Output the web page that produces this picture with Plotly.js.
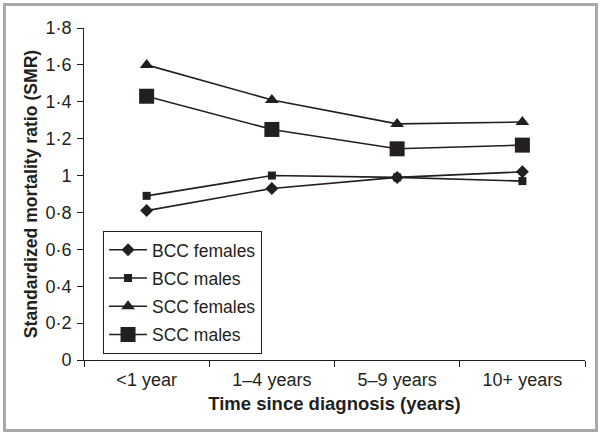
<!DOCTYPE html>
<html><head><meta charset="utf-8">
<script src="https://cdn.plot.ly/plotly-3.0.1.min.js"></script>
<style>
html,body{margin:0;padding:0;background:#fff;}
#chart{width:601px;height:435px;position:absolute;left:0;top:0;}
#frame{position:absolute;left:3px;top:3px;width:589px;height:423px;border:3px solid #a9a9a9;pointer-events:none;}
</style></head>
<body>
<div id="chart"></div>
<div id="frame"></div>
<script>
const categories = ['<1 year', '1\u20134 years', '5\u20139 years', '10+ years'];
const bccFemales = [0.81, 0.93, 0.99, 1.02];
const bccMales = [0.89, 1.00, 0.99, 0.97];
const sccFemales = [1.60, 1.41, 1.28, 1.29];
const sccMales = [1.43, 1.25, 1.145, 1.165];
const yTickVals = [0, 0.2, 0.4, 0.6, 0.8, 1, 1.2, 1.4, 1.6, 1.8];
const yTickText = ['0', '0\u00b72', '0\u00b74', '0\u00b76', '0\u00b78', '1', '1\u00b72', '1\u00b74', '1\u00b76', '1\u00b78'];

const ink = '#231f20';
function tr(name, y, symbol, size, g) {
  return {
    x: categories, y: y, name: name, type: 'scatter', mode: 'lines+markers',
    legendgroup: g,
    line: {color: ink, width: 1.6},
    marker: {symbol: symbol, size: size, color: ink}
  };
}
const data = [
  tr('BCC females', bccFemales, 'diamond', 10, 'a'),
  tr('BCC males', bccMales, 'square', 8, 'b'),
  tr('SCC females', sccFemales, 'triangle-up', 12, 'c'),
  tr('SCC males', sccMales, 'square', 15, 'd')
];
const layout = {
  width: 601, height: 435,
  margin: {l: 84, r: 16, t: 28, b: 75},
  paper_bgcolor: '#fff', plot_bgcolor: '#fff',
  font: {family: 'Liberation Sans, Arial, sans-serif', size: 17.5, color: ink},
  showlegend: true,
  legend: {
    x: 0.038, y: 0.389, xanchor: 'left', yanchor: 'top',
    bordercolor: ink, borderwidth: 1, bgcolor: '#fff',
    font: {size: 17.5, color: ink},
    traceorder: 'grouped', tracegroupgap: 2.5, itemwidth: 38
  },
  xaxis: {
    type: 'category', range: [-0.5, 3.5],
    showgrid: false, zeroline: false,
    showline: true, linecolor: ink, linewidth: 1,
    ticks: 'outside', tickson: 'boundaries', ticklen: 6, tickcolor: ink,
    tickfont: {size: 18}, ticklabelstandoff: 3,
    title: {text: '<b>Time since diagnosis (years)</b>', font: {size: 18.5}, standoff: 8}
  },
  yaxis: {
    range: [0, 1.8], tickvals: yTickVals, ticktext: yTickText,
    showgrid: false, zeroline: false,
    showline: true, linecolor: ink, linewidth: 1,
    ticks: 'outside', ticklen: 6, tickcolor: ink,
    tickfont: {size: 18}, ticklabelstandoff: 2,
    title: {text: '<b>Standardized mortality ratio (SMR)</b>', font: {size: 17.6}, standoff: 3}
  }
};
Plotly.newPlot('chart', data, layout, {displayModeBar: false, staticPlot: true});
</script>
</body></html>
